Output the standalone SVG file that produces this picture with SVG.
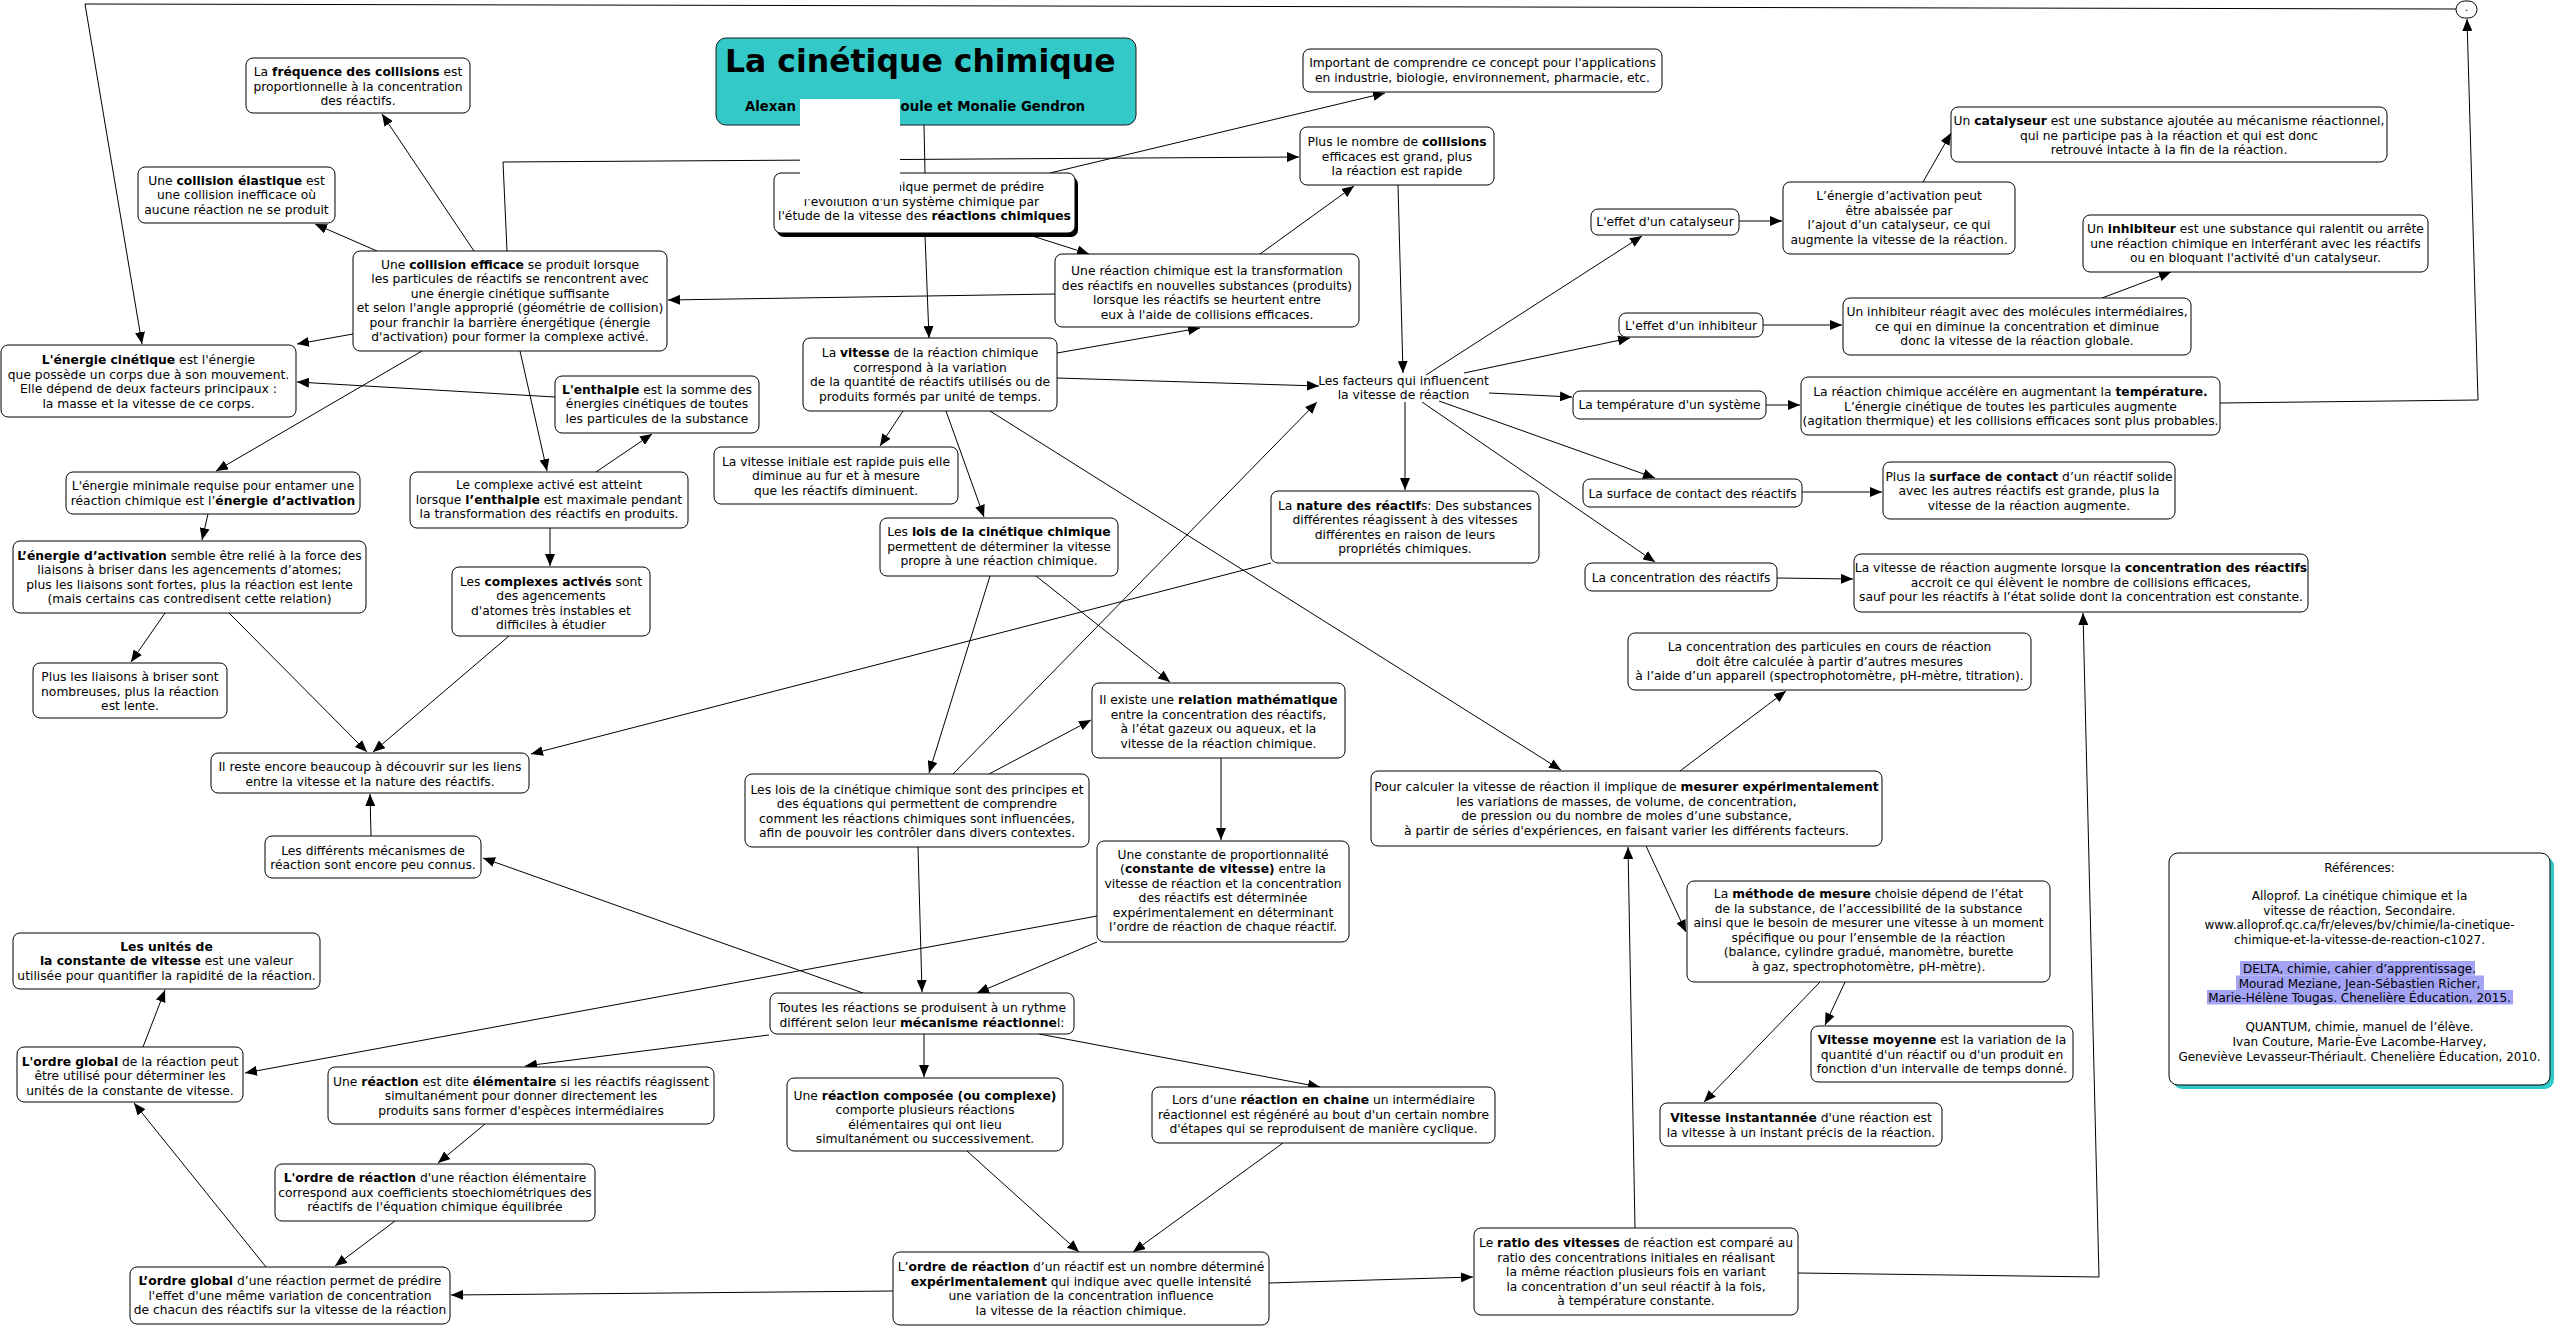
<svg xmlns="http://www.w3.org/2000/svg" width="2558" height="1327" viewBox="0 0 2558 1327">
<style>
.nd rect.bx{fill:#fff;stroke:#000;stroke-width:1}
text{font-family:"DejaVu Sans",Verdana,sans-serif;font-size:12.3px;fill:#000;text-anchor:middle}
.b{font-weight:bold}
.ttl{font-size:31.5px;font-weight:bold;text-anchor:start}
.sub{font-size:13.3px;font-weight:bold}
.ref{font-size:12px}
#connectors path{fill:none;stroke:#000;stroke-width:1}
</style>
<defs>
<marker id="ah" viewBox="0 0 12 10" refX="12" refY="5" markerWidth="12" markerHeight="10" markerUnits="userSpaceOnUse" orient="auto"><path d="M0,0 L12,5 L0,10 z" fill="#000"/></marker>
</defs>
<rect x="0" y="0" width="2558" height="1327" fill="#fff"/>
<g id="connectors">
<path d="M924,125 L925,173"/>
<path d="M925,235 L929,338" marker-end="url(#ah)"/>
<path d="M1050,173 L1385,93" marker-end="url(#ah)"/>
<path d="M1026,234 L1089,254" marker-end="url(#ah)"/>
<path d="M1260,254 L1354,186" marker-end="url(#ah)"/>
<path d="M1055,294 L668,300" marker-end="url(#ah)"/>
<path d="M507,251 L503,162 L1299,157" marker-end="url(#ah)"/>
<path d="M474,251 L382,114" marker-end="url(#ah)"/>
<path d="M377,251 L315,224" marker-end="url(#ah)"/>
<path d="M353,334 L297,344" marker-end="url(#ah)"/>
<path d="M422,351 L216,471" marker-end="url(#ah)"/>
<path d="M520,351 L547,471" marker-end="url(#ah)"/>
<path d="M555,397 L297,382" marker-end="url(#ah)"/>
<path d="M596,472 L652,434" marker-end="url(#ah)"/>
<path d="M208,514 L202,540" marker-end="url(#ah)"/>
<path d="M165,613 L131,662" marker-end="url(#ah)"/>
<path d="M229,613 L367,752" marker-end="url(#ah)"/>
<path d="M550,528 L550,566" marker-end="url(#ah)"/>
<path d="M509,636 L373,752" marker-end="url(#ah)"/>
<path d="M1271,563 L531,754" marker-end="url(#ah)"/>
<path d="M371,836 L370,794" marker-end="url(#ah)"/>
<path d="M863,993 L483,858" marker-end="url(#ah)"/>
<path d="M1097,916 L245,1073" marker-end="url(#ah)"/>
<path d="M769,1035 L525,1066" marker-end="url(#ah)"/>
<path d="M143,1047 L165,990" marker-end="url(#ah)"/>
<path d="M266,1267 L134,1103" marker-end="url(#ah)"/>
<path d="M485,1124 L438,1163" marker-end="url(#ah)"/>
<path d="M395,1221 L335,1266" marker-end="url(#ah)"/>
<path d="M893,1291 L451,1295" marker-end="url(#ah)"/>
<path d="M918,847 L922,992" marker-end="url(#ah)"/>
<path d="M1097,942 L977,993" marker-end="url(#ah)"/>
<path d="M924,1034 L924,1077" marker-end="url(#ah)"/>
<path d="M1039,1034 L1320,1087" marker-end="url(#ah)"/>
<path d="M967,1151 L1079,1252" marker-end="url(#ah)"/>
<path d="M1283,1143 L1133,1252" marker-end="url(#ah)"/>
<path d="M1269,1283 L1473,1277" marker-end="url(#ah)"/>
<path d="M1635,1228 L1628,847" marker-end="url(#ah)"/>
<path d="M1798,1273 L2099,1277 L2083,613" marker-end="url(#ah)"/>
<path d="M1646,846 L1686,932" marker-end="url(#ah)"/>
<path d="M1820,982 L1704,1102" marker-end="url(#ah)"/>
<path d="M1845,982 L1825,1025" marker-end="url(#ah)"/>
<path d="M1680,771 L1786,691" marker-end="url(#ah)"/>
<path d="M990,411 L1561,770" marker-end="url(#ah)"/>
<path d="M903,411 L880,446" marker-end="url(#ah)"/>
<path d="M946,411 L984,517" marker-end="url(#ah)"/>
<path d="M1057,353 L1200,328" marker-end="url(#ah)"/>
<path d="M1057,378 L1319,386" marker-end="url(#ah)"/>
<path d="M990,576 L929,773" marker-end="url(#ah)"/>
<path d="M1036,576 L1170,682" marker-end="url(#ah)"/>
<path d="M989,774 L1091,720" marker-end="url(#ah)"/>
<path d="M953,774 L1317,402" marker-end="url(#ah)"/>
<path d="M1221,758 L1221,840" marker-end="url(#ah)"/>
<path d="M1398,185 L1403,373" marker-end="url(#ah)"/>
<path d="M1426,375 L1642,236" marker-end="url(#ah)"/>
<path d="M1464,373 L1630,338" marker-end="url(#ah)"/>
<path d="M1489,393 L1572,397" marker-end="url(#ah)"/>
<path d="M1439,401 L1655,478" marker-end="url(#ah)"/>
<path d="M1422,402 L1655,562" marker-end="url(#ah)"/>
<path d="M1405,402 L1405,490" marker-end="url(#ah)"/>
<path d="M1739,221 L1782,221" marker-end="url(#ah)"/>
<path d="M1923,182 L1951,133" marker-end="url(#ah)"/>
<path d="M1763,325 L1842,325" marker-end="url(#ah)"/>
<path d="M2102,298 L2171,272" marker-end="url(#ah)"/>
<path d="M1766,405 L1800,405" marker-end="url(#ah)"/>
<path d="M1802,492 L1882,492" marker-end="url(#ah)"/>
<path d="M1777,578 L1853,579" marker-end="url(#ah)"/>
<path d="M2220,403 L2478,400 L2467,19" marker-end="url(#ah)"/>
<path d="M2456,9 L85,4 L142,344" marker-end="url(#ah)"/>
</g>

<g id="n-title"><rect x="716" y="38" width="420" height="87" rx="10" fill="#33C9C9" stroke="#1a1a1a" stroke-width="1"/><text class="ttl" x="725" y="72">La cinétique chimique</text><text class="sub" x="745" y="111" style="text-anchor:start">Alexan</text><text class="sub" x="1085" y="111" style="text-anchor:end">oule et Monalie Gendron</text></g>

<g id="n-intro" class="nd"><rect x="777" y="177" width="301" height="60" rx="7" fill="#000"/><rect class="bx" x="774" y="173" width="301" height="60" rx="7"/><text x="1044" y="191" style="text-anchor:end">nique permet de prédire</text><text x="921.5" y="205.5">l'évolution d'un système chimique par</text><text x="924.5" y="220">l'étude de la vitesse des <tspan class="b">réactions chimiques</tspan></text></g>

<g id="n-important" class="nd"><rect class="bx" x="1303" y="49" width="359" height="43" rx="7"/><text x="1482.5" y="67">Important de comprendre ce concept pour l'applications</text><text x="1482.5" y="81.5">en industrie, biologie, environnement, pharmacie, etc.</text></g>

<g id="n-frequence" class="nd"><rect class="bx" x="246" y="58" width="224" height="55" rx="7"/><text x="358" y="76">La <tspan class="b">fréquence des collisions</tspan> est</text><text x="358" y="90.5">proportionnelle à la concentration</text><text x="358" y="105">des réactifs.</text></g>

<g id="n-elastique" class="nd"><rect class="bx" x="138" y="167" width="197" height="56" rx="7"/><text x="236.5" y="184.5">Une <tspan class="b">collision élastique</tspan> est</text><text x="236.5" y="199">une collision inefficace où</text><text x="236.5" y="213.5">aucune réaction ne se produit</text></g>

<g id="n-efficace" class="nd"><rect class="bx" x="353" y="251" width="314" height="100" rx="7"/><text x="510" y="268.5">Une <tspan class="b">collision efficace</tspan> se produit lorsque</text><text x="510" y="283">les particules de réactifs se rencontrent avec</text><text x="510" y="297.5">une énergie cinétique suffisante</text><text x="510" y="312">et selon l'angle approprié (géométrie de collision)</text><text x="510" y="326.5">pour franchir la barrière énergétique (énergie</text><text x="510" y="341">d'activation) pour former la complexe activé.</text></g>

<g id="n-cinetique" class="nd"><rect class="bx" x="1" y="345" width="295" height="72" rx="7"/><text x="148.5" y="364"><tspan class="b">L'énergie cinétique</tspan> est l'énergie</text><text x="148.5" y="378.5">que possède un corps due à son mouvement.</text><text x="148.5" y="393">Elle dépend de deux facteurs principaux :</text><text x="148.5" y="407.5">la masse et la vitesse de ce corps.</text></g>

<g id="n-enthalpie" class="nd"><rect class="bx" x="555" y="376" width="204" height="57" rx="7"/><text x="657" y="393.5"><tspan class="b">L'enthalpie</tspan> est la somme des</text><text x="657" y="408">énergies cinétiques de toutes</text><text x="657" y="422.5">les particules de la substance</text></g>

<g id="n-minimale" class="nd"><rect class="bx" x="66" y="472" width="294" height="42" rx="7"/><text x="213" y="490">L'énergie minimale requise pour entamer une</text><text x="213" y="504.5">réaction chimique est l’<tspan class="b">énergie d’activation</tspan></text></g>

<g id="n-activation" class="nd"><rect class="bx" x="13" y="541" width="353" height="72" rx="7"/><text x="189.5" y="559.5"><tspan class="b">L’énergie d’activation</tspan> semble être relié à la force des</text><text x="189.5" y="574">liaisons à briser dans les agencements d’atomes;</text><text x="189.5" y="588.5">plus les liaisons sont fortes, plus la réaction est lente</text><text x="189.5" y="603">(mais certains cas contredisent cette relation)</text></g>

<g id="n-liaisons" class="nd"><rect class="bx" x="33" y="663" width="194" height="55" rx="7"/><text x="130" y="681">Plus les liaisons à briser sont</text><text x="130" y="695.5">nombreuses, plus la réaction</text><text x="130" y="710">est lente.</text></g>

<g id="n-complexe" class="nd"><rect class="bx" x="410" y="472" width="278" height="56" rx="7"/><text x="549" y="489">Le complexe activé est atteint</text><text x="549" y="503.5">lorsque <tspan class="b">l’enthalpie</tspan> est maximale pendant</text><text x="549" y="518">la transformation des réactifs en produits.</text></g>

<g id="n-complexes" class="nd"><rect class="bx" x="452" y="567" width="198" height="69" rx="7"/><text x="551" y="585.5">Les <tspan class="b">complexes activés</tspan> sont</text><text x="551" y="600">des agencements</text><text x="551" y="614.5">d'atomes très instables et</text><text x="551" y="629">difficiles à étudier</text></g>

<g id="n-reste" class="nd"><rect class="bx" x="211" y="753" width="318" height="40" rx="7"/><text x="370" y="771">Il reste encore beaucoup à découvrir sur les liens</text><text x="370" y="785.5">entre la vitesse et la nature des réactifs.</text></g>

<g id="n-mecanismes" class="nd"><rect class="bx" x="265" y="836" width="216" height="42" rx="7"/><text x="373" y="854.5">Les différents mécanismes de</text><text x="373" y="869">réaction sont encore peu connus.</text></g>

<g id="n-unites" class="nd"><rect class="bx" x="13" y="933" width="307" height="56" rx="7"/><text x="166.5" y="950.5" class="b">Les unités de</text><text x="166.5" y="965"><tspan class="b">la constante de vitesse</tspan> est une valeur</text><text x="166.5" y="979.5">utilisée pour quantifier la rapidité de la réaction.</text></g>

<g id="n-ordreglobal1" class="nd"><rect class="bx" x="17" y="1047" width="226" height="55" rx="7"/><text x="130" y="1065.5"><tspan class="b">L'ordre global</tspan> de la réaction peut</text><text x="130" y="1080">être utilisé pour déterminer les</text><text x="130" y="1094.5">unités de la constante de vitesse.</text></g>

<g id="n-elementaire" class="nd"><rect class="bx" x="328" y="1067" width="386" height="57" rx="7"/><text x="521" y="1085.5">Une <tspan class="b">réaction</tspan> est dite <tspan class="b">élémentaire</tspan> si les réactifs réagissent</text><text x="521" y="1100">simultanément pour donner directement les</text><text x="521" y="1114.5">produits sans former d'espèces intermédiaires</text></g>

<g id="n-ordrereaction1" class="nd"><rect class="bx" x="275" y="1164" width="320" height="57" rx="7"/><text x="435" y="1182"><tspan class="b">L'ordre de réaction</tspan> d'une réaction élémentaire</text><text x="435" y="1196.5">correspond aux coefficients stoechiométriques des</text><text x="435" y="1211">réactifs de l'équation chimique équilibrée</text></g>

<g id="n-ordreglobal2" class="nd"><rect class="bx" x="130" y="1267" width="320" height="57" rx="7"/><text x="290" y="1285"><tspan class="b">L’ordre global</tspan> d’une réaction permet de prédire</text><text x="290" y="1299.5">l'effet d'une même variation de concentration</text><text x="290" y="1314">de chacun des réactifs sur la vitesse de la réaction</text></g>

<g id="n-toutes" class="nd"><rect class="bx" x="770" y="993" width="304" height="41" rx="7"/><text x="922" y="1012">Toutes les réactions se produisent à un rythme</text><text x="922" y="1026.5">différent selon leur <tspan class="b">mécanisme réactionne</tspan>l:</text></g>

<g id="n-composee" class="nd"><rect class="bx" x="787" y="1078" width="276" height="73" rx="7"/><text x="925" y="1099.5">Une <tspan class="b">réaction composée (ou complexe)</tspan></text><text x="925" y="1114">comporte plusieurs réactions</text><text x="925" y="1128.5">élémentaires qui ont lieu</text><text x="925" y="1143">simultanément ou successivement.</text></g>

<g id="n-chaine" class="nd"><rect class="bx" x="1152" y="1087" width="343" height="56" rx="7"/><text x="1323.5" y="1104">Lors d’une <tspan class="b">réaction en chaine</tspan> un intermédiaire</text><text x="1323.5" y="1118.5">réactionnel est régénéré au bout d'un certain nombre</text><text x="1323.5" y="1133">d'étapes qui se reproduisent de manière cyclique.</text></g>

<g id="n-ordrereaction2" class="nd"><rect class="bx" x="893" y="1252" width="376" height="73" rx="7"/><text x="1081" y="1271">L’<tspan class="b">ordre de réaction</tspan> d’un réactif est un nombre déterminé</text><text x="1081" y="1285.5"><tspan class="b">expérimentalement</tspan> qui indique avec quelle intensité</text><text x="1081" y="1300">une variation de la concentration influence</text><text x="1081" y="1314.5">la vitesse de la réaction chimique.</text></g>

<g id="n-ratio" class="nd"><rect class="bx" x="1474" y="1228" width="324" height="87" rx="7"/><text x="1636" y="1247">Le <tspan class="b">ratio des vitesses</tspan> de réaction est comparé au</text><text x="1636" y="1261.5">ratio des concentrations initiales en réalisant</text><text x="1636" y="1276">la même réaction plusieurs fois en variant</text><text x="1636" y="1290.5">la concentration d’un seul réactif à la fois,</text><text x="1636" y="1305">à température constante.</text></g>

<g id="n-instantanee" class="nd"><rect class="bx" x="1660" y="1103" width="282" height="43" rx="7"/><text x="1801" y="1122"><tspan class="b">Vitesse instantannée</tspan> d'une réaction est</text><text x="1801" y="1136.5">la vitesse à un instant précis de la réaction.</text></g>

<g id="n-moyenne" class="nd"><rect class="bx" x="1811" y="1026" width="262" height="56" rx="7"/><text x="1942" y="1044"><tspan class="b">Vitesse moyenne</tspan> est la variation de la</text><text x="1942" y="1058.5">quantité d'un réactif ou d'un produit en</text><text x="1942" y="1073">fonction d'un intervalle de temps donné.</text></g>

<g id="n-methode" class="nd"><rect class="bx" x="1687" y="881" width="363" height="101" rx="7"/><text x="1868.5" y="898">La <tspan class="b">méthode de mesure</tspan> choisie dépend de l’état</text><text x="1868.5" y="912.5">de la substance, de l’accessibilité de la substance</text><text x="1868.5" y="927">ainsi que le besoin de mesurer une vitesse à un moment</text><text x="1868.5" y="941.5">spécifique ou pour l’ensemble de la réaction</text><text x="1868.5" y="956">(balance, cylindre gradué, manomètre, burette</text><text x="1868.5" y="970.5">à gaz, spectrophotomètre, pH-mètre).</text></g>

<g id="n-calculer" class="nd"><rect class="bx" x="1371" y="771" width="511" height="75" rx="7"/><text x="1626.5" y="791">Pour calculer la vitesse de réaction il implique de <tspan class="b">mesurer expérimentalement</tspan></text><text x="1626.5" y="805.5">les variations de masses, de volume, de concentration,</text><text x="1626.5" y="820">de pression ou du nombre de moles d’une substance,</text><text x="1626.5" y="834.5">à partir de séries d'expériences, en faisant varier les différents facteurs.</text></g>

<g id="n-particules" class="nd"><rect class="bx" x="1628" y="633" width="403" height="57" rx="7"/><text x="1829.5" y="651">La concentration des particules en cours de réaction</text><text x="1829.5" y="665.5">doit être calculée à partir d’autres mesures</text><text x="1829.5" y="680">à l’aide d’un appareil (spectrophotomètre, pH-mètre, titration).</text></g>

<g id="n-concentration" class="nd"><rect class="bx" x="1585" y="563" width="192" height="28" rx="7"/><text x="1681" y="582">La concentration des réactifs</text></g>

<g id="n-concentration-effet" class="nd"><rect class="bx" x="1854" y="554" width="454" height="58" rx="7"/><text x="2081" y="572">La vitesse de réaction augmente lorsque la <tspan class="b">concentration des réactifs</tspan></text><text x="2081" y="586.5">accroit ce qui élèvent le nombre de collisions efficaces,</text><text x="2081" y="601">sauf pour les réactifs à l’état solide dont la concentration est constante.</text></g>

<g id="n-surface" class="nd"><rect class="bx" x="1583" y="479" width="219" height="28" rx="7"/><text x="1692.5" y="498">La surface de contact des réactifs</text></g>

<g id="n-surface-effet" class="nd"><rect class="bx" x="1883" y="462" width="292" height="57" rx="7"/><text x="2029" y="480.5">Plus la <tspan class="b">surface de contact</tspan> d’un réactif solide</text><text x="2029" y="495">avec les autres réactifs est grande, plus la</text><text x="2029" y="509.5">vitesse de la réaction augmente.</text></g>

<g id="n-nature" class="nd"><rect class="bx" x="1271" y="491" width="268" height="72" rx="7"/><text x="1405" y="509.5">La <tspan class="b">nature des réactif</tspan>s: Des substances</text><text x="1405" y="524">différentes réagissent à des vitesses</text><text x="1405" y="538.5">différentes en raison de leurs</text><text x="1405" y="553">propriétés chimiques.</text></g>

<g id="n-facteurs"><text x="1403.5" y="384.5">Les facteurs qui influencent</text><text x="1403.5" y="399">la vitesse de réaction</text></g>

<g id="n-effet-catalyseur" class="nd"><rect class="bx" x="1591" y="209" width="148" height="26" rx="7"/><text x="1665" y="225.5">L'effet d'un catalyseur</text></g>

<g id="n-abaissee" class="nd"><rect class="bx" x="1783" y="182" width="232" height="72" rx="7"/><text x="1899" y="200">L’énergie d’activation peut</text><text x="1899" y="214.5">être abaissée par</text><text x="1899" y="229">l’ajout d’un catalyseur, ce qui</text><text x="1899" y="243.5">augmente la vitesse de la réaction.</text></g>

<g id="n-catalyseur" class="nd"><rect class="bx" x="1951" y="107" width="436" height="55" rx="7"/><text x="2169" y="125">Un <tspan class="b">catalyseur</tspan> est une substance ajoutée au mécanisme réactionnel,</text><text x="2169" y="139.5">qui ne participe pas à la réaction et qui est donc</text><text x="2169" y="154">retrouvé intacte à la fin de la réaction.</text></g>

<g id="n-effet-inhibiteur" class="nd"><rect class="bx" x="1619" y="313" width="144" height="24" rx="7"/><text x="1691" y="329.5">L'effet d'un inhibiteur</text></g>

<g id="n-inhibiteur-reagit" class="nd"><rect class="bx" x="1843" y="298" width="348" height="57" rx="7"/><text x="2017" y="316">Un inhibiteur réagit avec des molécules intermédiaires,</text><text x="2017" y="330.5">ce qui en diminue la concentration et diminue</text><text x="2017" y="345">donc la vitesse de la réaction globale.</text></g>

<g id="n-inhibiteur" class="nd"><rect class="bx" x="2083" y="215" width="345" height="57" rx="7"/><text x="2255.5" y="233">Un <tspan class="b">inhibiteur</tspan> est une substance qui ralentit ou arrête</text><text x="2255.5" y="247.5">une réaction chimique en interférant avec les réactifs</text><text x="2255.5" y="262">ou en bloquant l'activité d'un catalyseur.</text></g>

<g id="n-temperature" class="nd"><rect class="bx" x="1573" y="391" width="193" height="28" rx="7"/><text x="1669.5" y="409">La température d'un système</text></g>

<g id="n-temperature-effet" class="nd"><rect class="bx" x="1801" y="377" width="419" height="58" rx="7"/><text x="2010.5" y="396">La réaction chimique accélère en augmentant la <tspan class="b">température.</tspan></text><text x="2010.5" y="410.5">L’énergie cinétique de toutes les particules augmente</text><text x="2010.5" y="425">(agitation thermique) et les collisions efficaces sont plus probables.</text></g>

<g id="n-plus-collisions" class="nd"><rect class="bx" x="1300" y="127" width="194" height="58" rx="7"/><text x="1397" y="146">Plus le nombre de <tspan class="b">collisions</tspan></text><text x="1397" y="160.5">efficaces est grand, plus</text><text x="1397" y="175">la réaction est rapide</text></g>

<g id="n-transformation" class="nd"><rect class="bx" x="1055" y="254" width="304" height="73" rx="7"/><text x="1207" y="275">Une réaction chimique est la transformation</text><text x="1207" y="289.5">des réactifs en nouvelles substances (produits)</text><text x="1207" y="304">lorsque les réactifs se heurtent entre</text><text x="1207" y="318.5">eux à l'aide de collisions efficaces.</text></g>

<g id="n-vitesse" class="nd"><rect class="bx" x="803" y="338" width="254" height="73" rx="7"/><text x="930" y="357">La <tspan class="b">vitesse</tspan> de la réaction chimique</text><text x="930" y="371.5">correspond à la variation</text><text x="930" y="386">de la quantité de réactifs utilisés ou de</text><text x="930" y="400.5">produits formés par unité de temps.</text></g>

<g id="n-initiale" class="nd"><rect class="bx" x="714" y="447" width="244" height="57" rx="7"/><text x="836" y="465.5">La vitesse initiale est rapide puis elle</text><text x="836" y="480">diminue au fur et à mesure</text><text x="836" y="494.5">que les réactifs diminuent.</text></g>

<g id="n-lois" class="nd"><rect class="bx" x="880" y="518" width="238" height="58" rx="7"/><text x="999" y="536">Les <tspan class="b">lois de la cinétique chimique</tspan></text><text x="999" y="550.5">permettent de déterminer la vitesse</text><text x="999" y="565">propre à une réaction chimique.</text></g>

<g id="n-relation" class="nd"><rect class="bx" x="1092" y="683" width="253" height="75" rx="7"/><text x="1218.5" y="704">Il existe une <tspan class="b">relation mathématique</tspan></text><text x="1218.5" y="718.5">entre la concentration des réactifs,</text><text x="1218.5" y="733">à l’état gazeux ou aqueux, et la</text><text x="1218.5" y="747.5">vitesse de la réaction chimique.</text></g>

<g id="n-principes" class="nd"><rect class="bx" x="745" y="774" width="344" height="73" rx="7"/><text x="917" y="793.5">Les lois de la cinétique chimique sont des principes et</text><text x="917" y="808">des équations qui permettent de comprendre</text><text x="917" y="822.5">comment les réactions chimiques sont influencées,</text><text x="917" y="837">afin de pouvoir les contrôler dans divers contextes.</text></g>

<g id="n-constante" class="nd"><rect class="bx" x="1097" y="841" width="252" height="101" rx="7"/><text x="1223" y="858.5">Une constante de proportionnalité</text><text x="1223" y="873">(<tspan class="b">constante de vitesse)</tspan> entre la</text><text x="1223" y="887.5">vitesse de réaction et la concentration</text><text x="1223" y="902">des réactifs est déterminée</text><text x="1223" y="916.5">expérimentalement en déterminant</text><text x="1223" y="931">l’ordre de réaction de chaque réactif.</text></g>

<g id="n-references" class="nd"><rect x="2173" y="857" width="381" height="232" rx="9" fill="#33C9C9"/><rect class="bx" x="2169" y="853" width="381" height="232" rx="9"/>
<rect x="2240" y="961" width="235" height="14.5" fill="#A3A3F5"/><rect x="2236" y="975.5" width="248" height="14.5" fill="#A3A3F5"/><rect x="2207" y="990" width="306" height="14.5" fill="#A3A3F5"/>
<text class="ref" x="2359.5" y="871.5">Références:</text>
<text class="ref" x="2359.5" y="900">Alloprof. La cinétique chimique et la</text>
<text class="ref" x="2359.5" y="914.5">vitesse de réaction, Secondaire.</text>
<text class="ref" x="2359.5" y="929">www.alloprof.qc.ca/fr/eleves/bv/chimie/la-cinetique-</text>
<text class="ref" x="2359.5" y="943.5">chimique-et-la-vitesse-de-reaction-c1027.</text>
<text class="ref" x="2359.5" y="972.5">DELTA, chimie, cahier d’apprentissage.</text>
<text class="ref" x="2359.5" y="987.5">Mourad Meziane, Jean-Sébastien Richer,</text>
<text class="ref" x="2359.5" y="1002">Marie-Hélène Tougas. Chenelière Éducation, 2015.</text>
<text class="ref" x="2359.5" y="1031">QUANTUM, chimie, manuel de l’élève.</text>
<text class="ref" x="2359.5" y="1045.5">Ivan Couture, Marie-Ève Lacombe-Harvey,</text>
<text class="ref" x="2359.5" y="1060.5">Geneviève Levasseur-Thériault. Chenelière Éducation, 2010.</text></g>

<g id="n-circle" class="nd"><rect class="bx" x="2456" y="1" width="21" height="17" rx="8.5"/><text x="2466.5" y="11" style="font-size:10px">.</text></g>

<rect id="mask" x="800" y="99" width="100" height="100" fill="#fff"/>
</svg>
